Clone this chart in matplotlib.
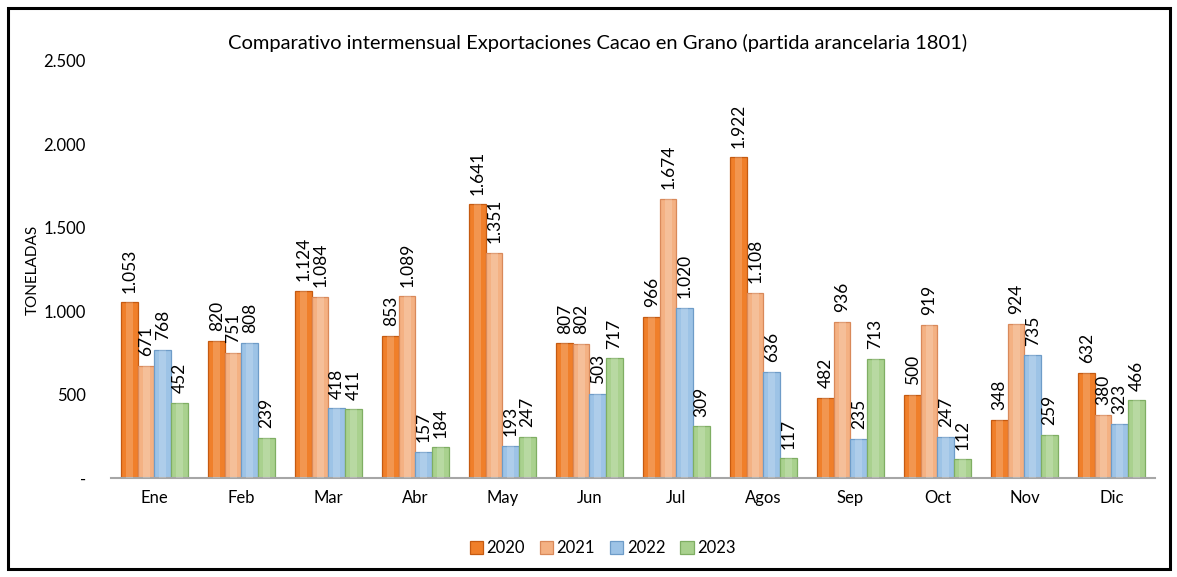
import matplotlib
matplotlib.use("Agg")
import matplotlib.pyplot as plt
import numpy as np
from matplotlib.patches import Rectangle
from matplotlib.ticker import FuncFormatter

plt.rcParams["font.family"] = ["Lato", "DejaVu Sans"]

meses = ["Ene", "Feb", "Mar", "Abr", "May", "Jun", "Jul", "Agos", "Sep", "Oct", "Nov", "Dic"]
anios = ["2020", "2021", "2022", "2023"]
v2020 = [1053, 820, 1124, 853, 1641, 807, 966, 1922, 482, 500, 348, 632]
v2021 = [671, 751, 1084, 1089, 1351, 802, 1674, 1108, 936, 919, 924, 380]
v2022 = [768, 808, 418, 157, 193, 503, 1020, 636, 235, 247, 735, 323]
v2023 = [452, 239, 411, 184, 247, 717, 309, 117, 713, 112, 259, 466]

series = [v2020, v2021, v2022, v2023]
colores = ["#F07F2A", "#F4B183", "#9DC3E6", "#A9D18E"]
bordes = ["#C55A11", "#D9895A", "#6E9CC8", "#7FAE63"]

def miles(v, pos=None):
    if v == 0:
        return "-"
    return f"{int(v):,}".replace(",", ".")

fig = plt.figure(figsize=(11.77, 5.77), dpi=100)
ax = fig.add_axes([0.0943, 0.1716, 0.8870, 0.7227])

x = np.arange(len(meses))
w = 0.19
for i, (vals, c, b) in enumerate(zip(series, colores, bordes)):
    pos = x + (i - 1.5) * w
    ax.bar(pos, vals, width=w, color=c, edgecolor=b, linewidth=0.9,
           label=anios[i], zorder=2)
    # highlight strip for a bevelled look
    ax.bar(pos, vals, width=w * 0.4, color="white", alpha=0.18,
           linewidth=0, zorder=3)
    for xi, v in zip(pos, vals):
        ax.annotate(miles(v), (xi, v), xytext=(0, 7), textcoords="offset points",
                    rotation=90, ha="center", va="bottom", fontsize=12.5, zorder=4)

ax.set_xlim(-0.5, len(meses) - 0.5)
ax.set_ylim(0, 2500)
ax.set_yticks(np.arange(0, 2501, 500))
ax.yaxis.set_major_formatter(FuncFormatter(miles))
ax.set_xticks(x)
ax.set_xticklabels(meses)
ax.tick_params(axis="both", length=0, labelsize=12)
ax.tick_params(axis="x", pad=9)
ax.tick_params(axis="y", pad=18)
for s in ["top", "right", "left"]:
    ax.spines[s].set_visible(False)
ax.spines["bottom"].set_color("#A6A6A6")
ax.spines["bottom"].set_linewidth(1.5)

ax.set_ylabel("TONELADAS", fontsize=11)
ax.yaxis.set_label_coords(-0.068, 0.5)

fig.text(0.508, 0.925, "Comparativo intermensual Exportaciones Cacao en Grano (partida arancelaria 1801)",
         ha="center", va="center", fontsize=14.5)

ax.legend(loc="center", bbox_to_anchor=(0.512, 0.0495), bbox_transform=fig.transFigure,
          ncol=4, frameon=False, fontsize=12, handlelength=0.8, handleheight=0.8,
          handletextpad=0.2, columnspacing=0.9)

fig.patches.append(Rectangle((0.0068, 0.014), 0.9873, 0.972, transform=fig.transFigure,
                             fill=False, edgecolor="black", linewidth=2.2))

fig.savefig("out.png", dpi=100)
